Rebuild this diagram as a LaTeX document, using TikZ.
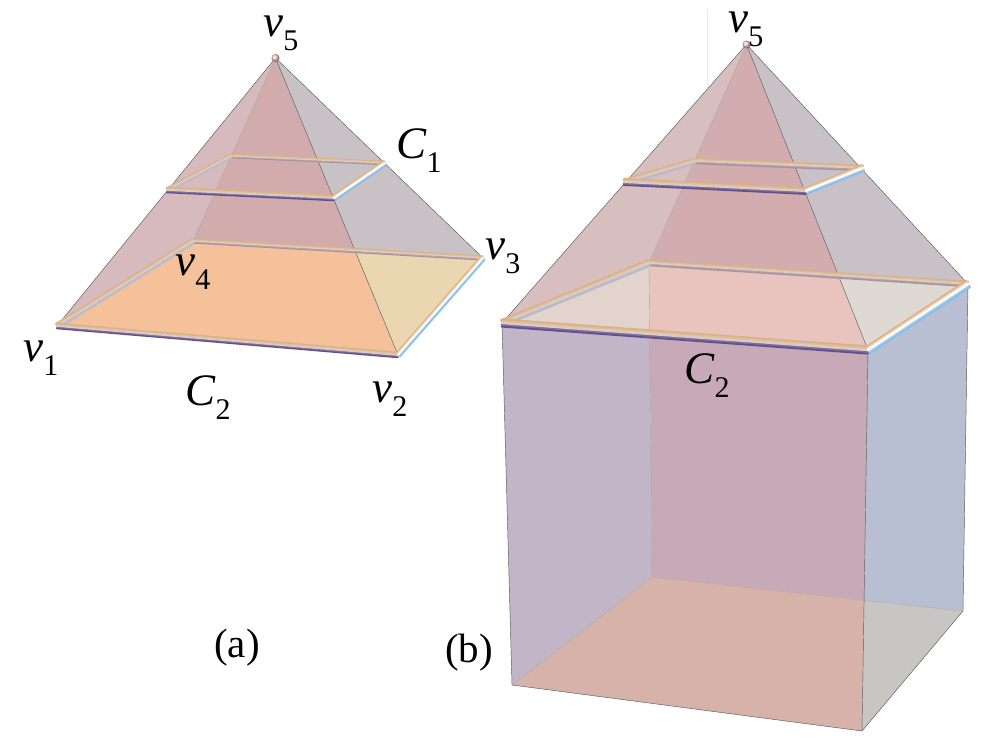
\documentclass[tikz,border=0pt]{standalone}
\usepackage{fontspec}
\setmainfont{Liberation Serif}
\usetikzlibrary{calc}
\newcommand{\lbl}[2]{{\fontsize{45}{45}\selectfont\itshape #1}\raisebox{-0.34em}{\fontsize{30}{30}\selectfont #2}}
% tube between two named corners: width, from, to, low side, middle, high side
\newcommand{\rod}[6]{%
  \foreach \k/\c in {-2/#4,-1/#4!75!#5,2/#6,1/#6!50!#5,0/#5}{
    \draw[line width=#1*0.34pt,color=\c,line cap=round]
      ($(#2)!\k*#1*0.24pt!90:(#3)$) -- ($(#3)!\k*#1*0.24pt!-90:(#2)$);
  }}
\definecolor{tubetan}{HTML}{DDB080}
\definecolor{tubepale}{HTML}{DCCBC2}
\definecolor{tubepurple}{HTML}{5F4F90}
\definecolor{tubeblue}{HTML}{86BCE6}
\definecolor{tubegrey}{HTML}{B4BACC}
\definecolor{tubeback}{HTML}{A8929E}
\begin{document}
\begin{tikzpicture}[x=1pt,y=-1pt]
      \tikzstyle{edge line}=[draw=black!65,line width=0.45pt]
      \tikzstyle{back line}=[draw=black!35,line width=0.4pt]
      \tikzstyle{tip ball}=[circle,inner sep=0,minimum size=8pt,ball color=red!20!white,shading=ball]
      \tikzstyle{txt}=[inner sep=0,font=\fontsize{41}{41}\selectfont]
      \useasboundingbox (0,0) rectangle (1000,754);

      % (a) pyramid alone
      \coordinate (a1) at (57,326);
      \coordinate (a2) at (398,355);
      \coordinate (a3) at (483,258);
      \coordinate (a4) at (193,241);
      \coordinate (a5) at (275.5,58);
      \coordinate (aX) at (intersection of a5--a2 and a4--a3);
      \coordinate (ap) at (167,190);
      \coordinate (aq) at (334,198);
      \coordinate (ar) at (385,163);
      \coordinate (as) at (231,156);

      \fill[fill={rgb,255:red,214;green,186;blue,189}] (a1) -- (a5) -- (a4) -- cycle;
      \fill[fill={rgb,255:red,210;green,172;blue,172}] (a4) -- (a5) -- (aX) -- cycle;
      \fill[fill={rgb,255:red,200;green,194;blue,198}] (a5) -- (a3) -- (aX) -- cycle;
      \fill[fill={rgb,255:red,244;green,193;blue,154}] (a1) -- (a2) -- (aX) -- (a4) -- cycle;
      \fill[fill={rgb,255:red,234;green,214;blue,177}] (a2) -- (a3) -- (aX) -- cycle;

      \draw[back line] (a4) -- (a5);
      \draw[edge line] (a1) -- (a5) -- (a3);
      \draw[edge line] (a5) -- (a2);

      \rod{4}{a4}{a3}{tubeback}{tubepale}{tubetan}
      \rod{5}{a1}{a4}{tubegrey}{tubepale}{tubetan}
      \rod{5}{a1}{a2}{tubepurple}{tubepale}{tubetan}
      \rod{5}{a2}{a3}{tubeblue}{white}{tubetan}
      \rod{3.5}{as}{ar}{tubeback}{tubepale}{tubetan}
      \rod{4}{ap}{as}{tubegrey}{tubepale}{tubetan}
      \rod{5}{ap}{aq}{tubepurple}{tubepale}{tubetan}
      \rod{5}{aq}{ar}{tubeblue}{white}{tubetan}
      \node (aball)[tip ball] at (a5) {};

      \node (av5)[txt] at (281,33) {\lbl{v}{5}};
      \node (ac1)[txt] at (419,151) {\lbl{C}{1}};
      \node (av3)[txt] at (503,256) {\lbl{v}{3}};
      \node (av4)[txt] at (193,272) {\lbl{v}{4}};
      \node (av1)[txt] at (41,358) {\lbl{v}{1}};
      \node (ac2)[txt] at (208,398) {\lbl{C}{2}};
      \node (av2)[txt] at (390,399) {\lbl{v}{2}};
      \node (atag)[txt] at (237,648) {(a)};

      % (b) pyramid on the box
      \coordinate (b1) at (502,323);
      \coordinate (b2) at (868,350);
      \coordinate (b3) at (968,284);
      \coordinate (b4) at (649,263);
      \coordinate (b5) at (746.5,44.5);
      \coordinate (bX) at (intersection of b5--b2 and b4--b3);
      \coordinate (bP) at (intersection of b1--b2 and b4--652,577);
      \coordinate (bp) at (624,182);
      \coordinate (bq) at (806,191);
      \coordinate (br) at (863,168);
      \coordinate (bs) at (695,161);
      \coordinate (f1) at (512,685);
      \coordinate (f2) at (862,731);
      \coordinate (f3) at (963,611);
      \coordinate (f4) at (652,577);
      \coordinate (fQ) at (intersection of b2--f2 and f4--f3);
      \coordinate (t1) at (707,9);
      \coordinate (t2) at (707,88);

      \draw[draw=black!8,line width=0.5pt] (t1) -- (t2);
      \fill[fill={rgb,255:red,194;green,181;blue,200}] (b1) -- (bP) -- (f4) -- (f1) -- cycle;
      \fill[fill={rgb,255:red,200;green,169;blue,184}] (bP) -- (b2) -- (fQ) -- (f4) -- cycle;
      \fill[fill={rgb,255:red,184;green,191;blue,211}] (b2) -- (b3) -- (f3) -- (fQ) -- cycle;
      \fill[fill={rgb,255:red,215;green,178;blue,169}] (f1) -- (f2) -- (fQ) -- (f4) -- cycle;
      \fill[fill={rgb,255:red,199;green,198;blue,194}] (f2) -- (f3) -- (fQ) -- cycle;
      \fill[fill={rgb,255:red,216;green,191;blue,191}] (b1) -- (b5) -- (b4) -- cycle;
      \fill[fill={rgb,255:red,210;green,172;blue,174}] (b4) -- (b5) -- (bX) -- cycle;
      \fill[fill={rgb,255:red,200;green,194;blue,200}] (b5) -- (b3) -- (bX) -- cycle;
      \fill[fill={rgb,255:red,226;green,212;blue,204}] (b1) -- (bP) -- (b4) -- cycle;
      \fill[fill={rgb,255:red,233;green,196;blue,191}] (bP) -- (b2) -- (bX) -- (b4) -- cycle;
      \fill[fill={rgb,255:red,223;green,217;blue,212}] (b2) -- (b3) -- (bX) -- cycle;

      \draw[back line] (b4) -- (b5);
      \draw[back line] (b4) -- (f4) -- (f1);
      \draw[back line] (f4) -- (f3);
      \draw[edge line] (b1) -- (b5) -- (b3);
      \draw[edge line] (b5) -- (b2);
      \draw[edge line] (b1) -- (f1) -- (f2) -- (f3) -- (b3);
      \draw[edge line] (b2) -- (f2);

      \rod{5}{b4}{b3}{tubeback}{tubepale}{tubetan}
      \rod{6}{b1}{b4}{tubegrey}{tubepale}{tubetan}
      \rod{7}{b1}{b2}{tubepurple}{tubepale}{tubetan}
      \rod{7}{b2}{b3}{tubeblue}{white}{tubetan}
      \rod{5}{bs}{br}{tubeback}{tubepale}{tubetan}
      \rod{5}{bp}{bs}{tubegrey}{tubepale}{tubetan}
      \rod{6}{bp}{bq}{tubepurple}{tubepale}{tubetan}
      \rod{6}{bq}{br}{tubeblue}{white}{tubetan}
      \node (bball)[tip ball] at (b5) {};

      \node (bv5)[txt] at (746,29) {\lbl{v}{5}};
      \node (bc2)[txt] at (707,376) {\lbl{C}{2}};
      \node (btag)[txt] at (469,653) {(b)};
\end{tikzpicture}
\end{document}
